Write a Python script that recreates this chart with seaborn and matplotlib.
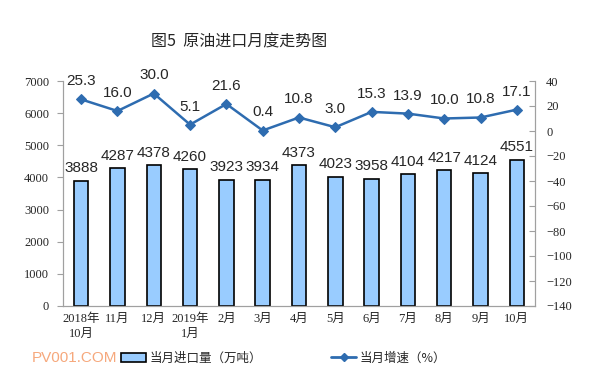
import seaborn as sns
import matplotlib.pyplot as plt
import pandas as pd
from matplotlib.lines import Line2D
from matplotlib.patches import Patch

months = ['2018年\n10月', '11月', '12月', '2019年\n1月', '2月', '3月', '4月',
          '5月', '6月', '7月', '8月', '9月', '10月']
imports = [3888, 4287, 4378, 4260, 3923, 3934, 4373, 4023, 3958, 4104, 4217, 4124, 4551]
growth = [25.3, 16.0, 30.0, 5.1, 21.6, 0.4, 10.8, 3.0, 15.3, 13.9, 10.0, 10.8, 17.1]

sns.set_style('white')
plt.rcParams['font.family'] = ['Liberation Sans', 'Noto Sans CJK SC']

df = pd.DataFrame({'month': months, 'imports': imports, 'growth': growth})

fig = plt.figure(figsize=(6.13, 3.84), dpi=100)
ax = fig.add_axes([63 / 613, 1 - 306 / 384, 472 / 613, 225 / 384])

sns.barplot(data=df, x='month', y='imports', ax=ax, color='#99CCFF',
            saturation=1, width=0.4, edgecolor='black', linewidth=1.2)
ax.set_ylim(0, 7000)
ax.set_xlim(-0.5, 12.5)
ax.set_xlabel('')
ax.set_ylabel('')
for i, v in enumerate(imports):
    ax.annotate(str(v), (i, v), xytext=(0, 4), textcoords='offset points',
                ha='center', va='bottom', fontsize=11)

ax2 = ax.twinx()
sns.lineplot(x=list(range(len(growth))), y=growth, ax=ax2, color='#2E6CB0',
             linewidth=1.8, marker='D', markersize=5, markeredgecolor='#2E6CB0')
ax2.set_ylim(-140, 40)
ax2.set_yticks(range(-140, 41, 20))
for i, v in enumerate(growth):
    ax2.annotate(f'{v:.1f}', (i, v), xytext=(0, 8), textcoords='offset points',
                 ha='center', va='bottom', fontsize=11)

serif = ['Liberation Serif', 'Noto Sans CJK SC']
ax.set_yticks(range(0, 7001, 1000))
ax.set_xticks(range(len(months)))
ax.set_xticklabels(months, family=serif, fontsize=9, linespacing=1.3)
for lab in ax.get_yticklabels():
    lab.set_family(serif)
    lab.set_fontsize(9)
for lab in ax2.get_yticklabels():
    lab.set_family(serif)
    lab.set_fontsize(9)

for a in (ax, ax2):
    a.spines['top'].set_visible(False)
    for side in ('left', 'right', 'bottom'):
        a.spines[side].set_color('#A0A0A0')
        a.spines[side].set_linewidth(0.8)
ax.tick_params(axis='y', length=4, direction='out', color='#A0A0A0', pad=6)
ax.tick_params(axis='x', length=0, pad=5)
ax2.tick_params(axis='y', length=4, direction='in', color='#A0A0A0', pad=8)
ax.set_xticks([i + 0.5 for i in range(12)], minor=True)
ax.tick_params(axis='x', which='minor', length=3, direction='out', color='#A0A0A0')

fig.text(239 / 613, 1 - 42 / 384, '图5  原油进口月度走势图', ha='center', va='center',
         fontsize=11.5, family=['Noto Sans CJK SC'])

fig.text(32 / 613, 1 - 358 / 384, 'PV001.COM', ha='left', va='center',
         fontsize=11, color='#F6A87C')

handles = [Patch(facecolor='#99CCFF', edgecolor='black', linewidth=1.2),
           Line2D([0], [0], color='#2E6CB0', linewidth=2, marker='D', markersize=4)]
labels = ['当月进口量（万吨）', '当月增速（%）']
fig.legend(handles, labels, loc='center left', bbox_to_anchor=(110 / 613, 1 - 358 / 384),
           ncol=2, frameon=False, columnspacing=5.5, handlelength=2,
           handletextpad=0.3, prop={'family': ['Noto Sans CJK SC'], 'size': 9})

fig.savefig('out.png', dpi=100)
